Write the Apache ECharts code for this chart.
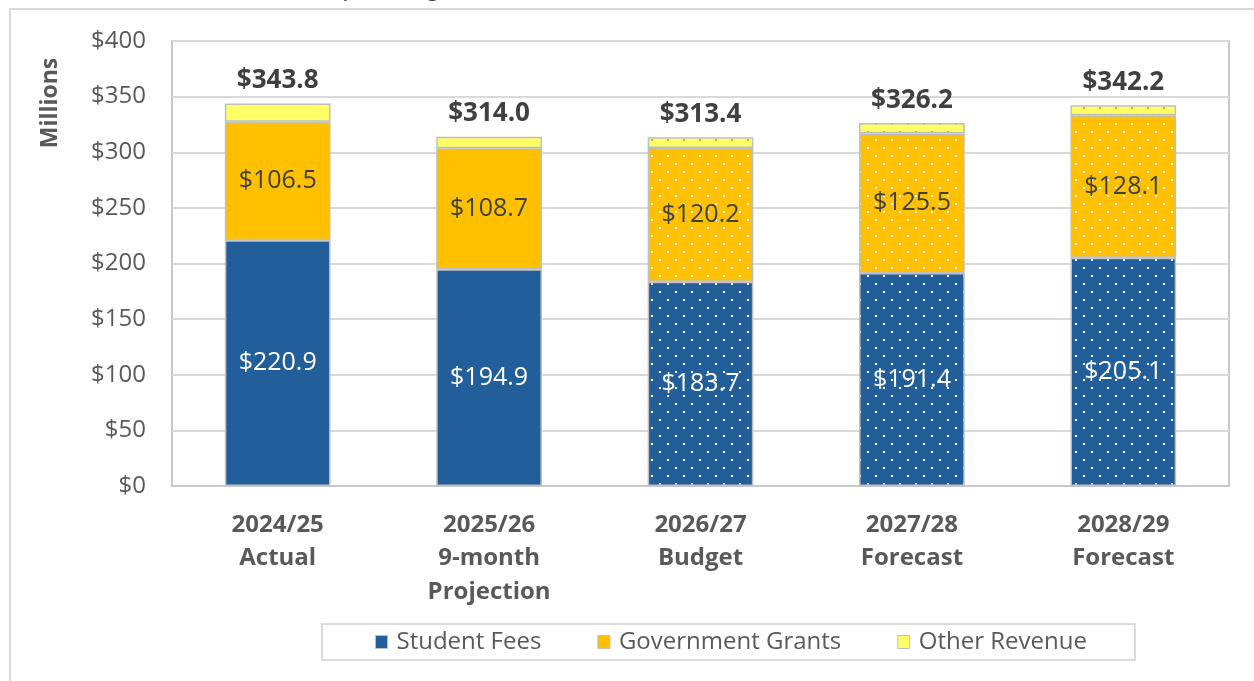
<!DOCTYPE html>
<html><head><meta charset="utf-8">
<script src="https://cdn.jsdelivr.net/npm/echarts@6/dist/echarts.min.js"></script>
<style>html,body{margin:0;padding:0;background:#fff}#c{width:1254px;height:681px}</style>
</head><body><div id="c"></div>
<script>
const categories = ['2024/25\nActual', '2025/26\n9-month\nProjection', '2026/27\nBudget', '2027/28\nForecast', '2028/29\nForecast'];
const studentFees = [220.9, 194.9, 183.7, 191.4, 205.1];
const governmentGrants = [106.5, 108.7, 120.2, 125.5, 128.1];
const otherRevenue = [16.4, 10.4, 9.5, 9.3, 9.0];
const totals = [343.8, 314.0, 313.4, 326.2, 342.2];
const dottedBars = [false, false, true, true, true];
const yMin = 0, yMax = 400, yStep = 50;

const FONT = 'Open Sans';
const BLUE = '#225F9A', ORANGE = '#FFC000', YELLOW = '#FFFF66';

function dots(bg, dot) {
  const c = document.createElement('canvas');
  c.width = 16; c.height = 16;
  const g = c.getContext('2d');
  g.fillStyle = bg; g.fillRect(0, 0, 16, 16);
  g.fillStyle = dot;
  g.fillRect(3, 3, 2, 2);
  g.fillRect(11, 11, 2, 2);
  return { image: c, repeat: 'repeat' };
}
const patterns = {
  blue: dots(BLUE, '#ffffff'),
  orange: dots(ORANGE, '#ffffff'),
  yellow: dots(YELLOW, '#F2A900')
};
function items(values, pat) {
  return values.map((v, i) => dottedBars[i] ? { value: v, itemStyle: { color: pat } } : { value: v });
}
const barBorder = { borderColor: '#BFBFBF', borderWidth: 1.5 };

const chart = echarts.init(document.getElementById('c'), null, { renderer: 'canvas' });
chart.setOption({
  animation: false,
  textStyle: { fontFamily: FONT },
  grid: { left: 172, right: 25, top: 41, bottom: 195, show: true, borderColor: '#C8C8C8', borderWidth: 2 },
  graphic: [
    { type: 'rect', z: -10, shape: { x: 10, y: 9, width: 1300, height: 720 }, style: { fill: 'none', stroke: '#D9D9D9', lineWidth: 2 } },
    { type: 'text', x: 50, y: 103, rotation: Math.PI / 2,
      style: { text: 'Millions', font: 'bold 23px "Open Sans"', fill: '#595959', align: 'center', verticalAlign: 'middle' } },
    { type: 'text', x: 326, y: 1,
      style: { text: 'Operating Revenue ($M)', font: 'italic 26px "Open Sans"', fill: '#404040', align: 'left', verticalAlign: 'bottom' } }
  ],
  legend: {
    left: 322, top: 624,
    padding: [6, 48, 6, 53],
    itemGap: 56,
    itemWidth: 12, itemHeight: 13,
    borderColor: '#D0D0D0', borderWidth: 1.5,
    icon: 'rect',
    itemStyle: { borderColor: '#BFBFBF', borderWidth: 1 },
    textStyle: { fontFamily: FONT, fontSize: 24, color: '#595959', padding: [0, 0, 0, 4] },
    data: ['Student Fees', 'Government Grants', 'Other Revenue']
  },
  xAxis: {
    type: 'category', data: categories,
    axisTick: { show: false },
    axisLine: { lineStyle: { color: '#C8C8C8', width: 2 } },
    axisLabel: { fontFamily: FONT, fontSize: 24, fontWeight: 'bold', color: '#595959', lineHeight: 33.5, margin: 22, interval: 0 }
  },
  yAxis: {
    type: 'value', min: yMin, max: yMax, interval: yStep,
    axisLine: { show: false }, axisTick: { show: false },
    splitLine: { lineStyle: { color: '#D9D9D9', width: 2 } },
    axisLabel: { fontFamily: FONT, fontSize: 24, color: '#595959', margin: 26, formatter: v => '$' + v }
  },
  series: [
    { name: 'Student Fees', type: 'bar', stack: 't', barWidth: '50%',
      itemStyle: Object.assign({ color: BLUE }, barBorder),
      label: { show: true, position: 'inside', fontFamily: FONT, fontSize: 25, color: '#ffffff', formatter: p => '$' + p.value.toFixed(1) },
      data: items(studentFees, patterns.blue) },
    { name: 'Government Grants', type: 'bar', stack: 't',
      itemStyle: Object.assign({ color: ORANGE }, barBorder),
      label: { show: true, position: 'inside', fontFamily: FONT, fontSize: 25, color: '#404040', formatter: p => '$' + p.value.toFixed(1) },
      data: items(governmentGrants, patterns.orange) },
    { name: 'Other Revenue', type: 'bar', stack: 't',
      itemStyle: Object.assign({ color: YELLOW }, barBorder),
      label: { show: true, position: 'top', distance: 10, fontFamily: FONT, fontSize: 26, fontWeight: 'bold', color: '#404040',
        formatter: p => '$' + totals[p.dataIndex].toFixed(1) },
      data: items(otherRevenue, patterns.yellow) }
  ]
});
</script></body></html>
